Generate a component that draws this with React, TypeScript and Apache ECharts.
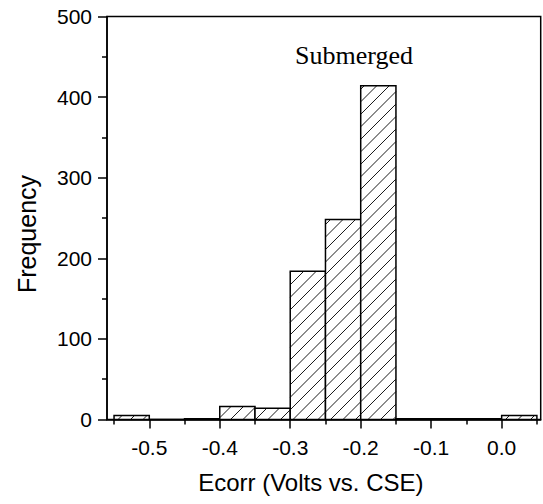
import React, { useEffect, useRef } from "react";
import * as echarts from "echarts";

const binEdges = [-0.55, -0.5, -0.45, -0.4, -0.35, -0.3, -0.25, -0.2, -0.15, -0.1, -0.05, 0.0, 0.05];
const frequencies = [5, 0, 1, 16, 14, 184, 248, 414, 1, 1, 1, 5];
const xMajorTicks = [-0.5, -0.4, -0.3, -0.2, -0.1, 0.0];
const xMinorTicks = [-0.55, -0.45, -0.35, -0.25, -0.15, -0.05, 0.05];
const xLabels = ["-0.5", "-0.4", "-0.3", "-0.2", "-0.1", "0.0"];
const annotation = "Submerged";

export default function App() {
  const ref = useRef<HTMLDivElement>(null);
  useEffect(() => {
    if (!ref.current) return;
    const chart = echarts.init(ref.current, undefined, { renderer: "svg" });
    const data = frequencies.map((f, i) => [binEdges[i], binEdges[i + 1], f]);
    const step = 12.5;
    const renderItem = (params: any, api: any) => {
      const x0 = api.value(0);
      const x1 = api.value(1);
      const f = api.value(2);
      const p0 = api.coord([x0, 0]);
      const p1 = api.coord([x1, f]);
      const left = p0[0];
      const right = p1[0];
      const bottom = p0[1];
      const top = p1[1];
      const children: any[] = [];
      children.push({
        type: "rect",
        shape: { x: left, y: top, width: right - left, height: bottom - top },
        style: { fill: "#fff", stroke: null },
      });
      const start = Math.ceil((left + top) / step) * step;
      for (let c = start; c < right + bottom; c += step) {
        const xa = Math.max(left, c - bottom);
        const xb = Math.min(right, c - top);
        if (xb - xa > 0.5) {
          children.push({
            type: "line",
            shape: { x1: xa, y1: c - xa, x2: xb, y2: c - xb },
            style: { stroke: "#000", lineWidth: 0.9 },
          });
        }
      }
      children.push({
        type: "rect",
        shape: { x: left, y: top, width: right - left, height: bottom - top },
        style: { fill: "none", stroke: "#000", lineWidth: 1.5 },
      });
      return { type: "group", children };
    };
    const labelStyle = { fontFamily: "Liberation Sans", fontSize: 21, color: "#000" };
    chart.setOption({
      animation: false,
      backgroundColor: "#fff",
      grid: {
        left: 107,
        top: 16.5,
        right: 2.3,
        bottom: 84.5,
        show: true,
        borderColor: "#000",
        borderWidth: 1.5,
        backgroundColor: "transparent",
      },
      xAxis: [
        {
          type: "value",
          min: -0.56,
          max: 0.0554,
          position: "bottom",
          splitLine: { show: false },
          axisLine: { show: true, onZero: false, lineStyle: { color: "#000", width: 1.5 } },
          axisTick: { show: true, length: 9, customValues: xMajorTicks, lineStyle: { color: "#000", width: 1.5 } },
          axisLabel: {
            ...labelStyle,
            margin: 17,
            customValues: xMajorTicks,
            formatter: (v: number) => {
              const i = xMajorTicks.findIndex((t) => Math.abs(t - v) < 1e-9);
              return i >= 0 ? xLabels[i] : "";
            },
          },
          name: "Ecorr (Volts vs. CSE)",
          nameLocation: "middle",
          nameGap: 51,
          nameTextStyle: { fontFamily: "Liberation Sans", fontSize: 24, color: "#000", padding: [0, 26, 0, 0] },
        },
        {
          type: "value",
          min: -0.56,
          max: 0.0554,
          position: "bottom",
          splitLine: { show: false },
          axisLine: { show: false, onZero: false },
          axisTick: { show: true, length: 5, customValues: xMinorTicks, lineStyle: { color: "#000", width: 1.5 } },
          axisLabel: { show: false },
        },
      ],
      yAxis: {
        type: "value",
        min: 0,
        max: 500,
        interval: 100,
        splitLine: { show: false },
        axisLine: { show: true, onZero: false, lineStyle: { color: "#000", width: 1.5 } },
        axisTick: { show: true, length: 9, lineStyle: { color: "#000", width: 1.5 } },
        minorTick: { show: true, splitNumber: 2, length: 5, lineStyle: { color: "#000", width: 1.5 } },
        axisLabel: { ...labelStyle, margin: 15 },
        name: "Frequency",
        nameLocation: "middle",
        nameGap: 68,
        nameTextStyle: { fontFamily: "Liberation Sans", fontSize: 25, color: "#000", padding: [0, 32, 0, 0] },
      },
      graphic: [
        {
          type: "text",
          x: 354,
          y: 55.5,
          style: {
            text: annotation,
            fontFamily: "Liberation Serif",
            fontSize: 26,
            fill: "#000",
            textAlign: "center",
            textVerticalAlign: "middle",
          },
        },
      ],
      series: [
        {
          type: "custom",
          xAxisIndex: 0,
          yAxisIndex: 0,
          renderItem,
          encode: { x: [0, 1], y: 2 },
          data,
        },
      ],
    });
    return () => chart.dispose();
  }, []);
  return <div ref={ref} style={{ position: "fixed", left: 0, top: 0, width: 543, height: 504 }} />;
}
